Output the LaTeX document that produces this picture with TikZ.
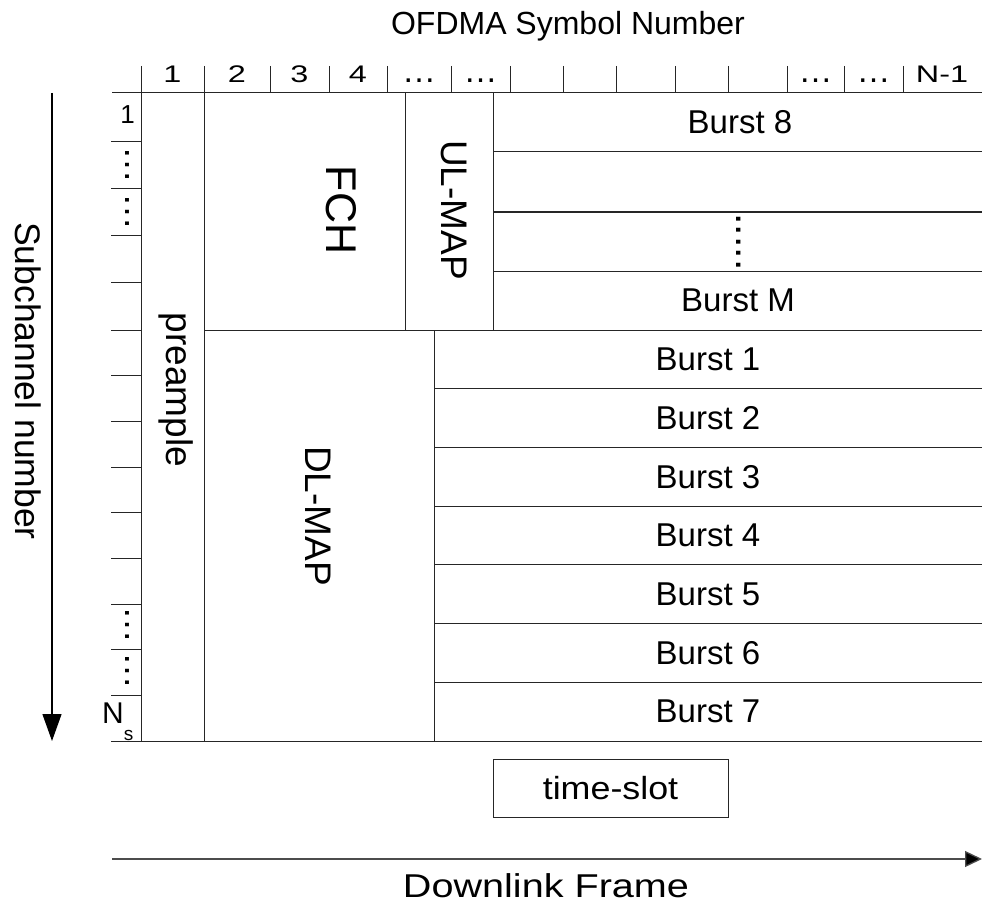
\documentclass[tikz,border=0pt]{standalone}
\usepackage{fontspec}
\setmainfont{Liberation Sans}
\usepackage{graphicx}
\usetikzlibrary{arrows.meta}
\newcommand\setfs[1]{\fontsize{#1}{#1}\selectfont}
\begin{document}
\begin{tikzpicture}[x=1pt,y=-1pt,
  gridline/.style={line width=1pt, draw=black!85},
  lbl/.style={inner sep=0pt, font=\setfs{33}},
  hdr/.style={inner sep=0pt, anchor=base, font=\setfs{24}},
  vlbl/.style={inner sep=0pt, rotate=-90},
  dots/.style={inner sep=0pt, rotate=-90, font=\setfs{37}}
]
\useasboundingbox (0,0) rectangle (982,904);

% titles
\node[lbl, font=\setfs{32}] (title) at (568,26) {OFDMA Symbol Number};
\node[lbl, font=\setfs{33}] (frame) at (546,886) {\scalebox{1.2}[1]{Downlink Frame}};
\node[vlbl, font=\setfs{35.5}] (sub) at (28,381) {Subchannel number};

% header
\draw[gridline] (112,93) -- (982,93);
\foreach \x in {141,204,270,329,387,451,510,563,616,675,728,787,844,903}
  \draw[gridline] (\x,66) -- (\x,93);
\node[hdr] (h1) at (172.5,83) {\scalebox{1.35}[1]{1}};
\node[hdr] (h2) at (237,83) {\scalebox{1.35}[1]{2}};
\node[hdr] (h3) at (299.5,83) {\scalebox{1.35}[1]{3}};
\node[hdr] (h4) at (358,83) {\scalebox{1.35}[1]{4}};
\node[hdr, font=\setfs{34}] (h5) at (419,83) {…};
\node[hdr, font=\setfs{34}] (h6) at (480.5,83) {…};
\node[hdr, font=\setfs{34}] (h7) at (815.5,83) {…};
\node[hdr, font=\setfs{34}] (h8) at (873.5,83) {…};
\node[hdr] (h9) at (942,83) {\scalebox{1.35}[1]{N-1}};

% left subchannel column
\foreach \y in {142,189,235,282,375.7,421.3,467,512.7,558.3,604,649.7,695.3}
  \draw[gridline] (111,\y) -- (141,\y);
\draw[gridline] (111,330) -- (141,330);
\draw[gridline] (141,93) -- (141,741);
\draw[gridline] (204,93) -- (204,741);
\draw[gridline] (204,330) -- (982,330);
\draw[gridline] (111,741) -- (982,741);
\node[lbl, font=\setfs{26}, anchor=east] (r1) at (135,115) {1};
\node[dots] (d1) at (127,165) {…};
\node[dots] (d2) at (127,212) {…};
\node[dots] (d3) at (127,625) {…};
\node[dots] (d4) at (127,671) {…};
\node[inner sep=0pt, anchor=base west, font=\setfs{30}] (ns) at (102,723) {N\raisebox{-17pt}{\setfs{19}s}};

% preamble
\node[vlbl, font=\setfs{37}] (pre) at (176,390) {preample};

% FCH and UL-MAP
\draw[gridline] (405,93) -- (405,330);
\draw[gridline] (493,93) -- (493,330);
\node[vlbl, font=\setfs{43}] (fch) at (341,210) {FCH};
\node[vlbl, font=\setfs{37}] (ulmap) at (454,210) {UL-MAP};

% UL bursts
\foreach \y in {152,212,271}
  \draw[gridline] (493,\y) -- (982,\y);
\node[lbl] (b8) at (740,122.5) {Burst 8};
\node[inner sep=0pt, rotate=-90, font=\setfs{41}] (bd) at (739,242) {.....};
\node[lbl] (bm) at (738,300.5) {Burst M};

% DL-MAP
\draw[gridline] (434,330) -- (434,741);
\node[vlbl, font=\setfs{37}] (dlmap) at (318,516) {DL-MAP};

% DL bursts
\foreach \y in {388.7,447.4,506.1,564.9,623.6,682.3}
  \draw[gridline] (434,\y) -- (982,\y);
\node[lbl] (b1) at (708,359.4) {Burst 1};
\node[lbl] (b2) at (708,418.1) {Burst 2};
\node[lbl] (b3) at (708,476.8) {Burst 3};
\node[lbl] (b4) at (708,535.5) {Burst 4};
\node[lbl] (b5) at (708,594.2) {Burst 5};
\node[lbl] (b6) at (708,652.9) {Burst 6};
\node[lbl] (b7) at (708,711.6) {Burst 7};

% time-slot box
\node[draw=black!85, line width=1pt, minimum width=235pt, minimum height=58pt, inner sep=0pt, font=\setfs{32}] (ts) at (610.5,788) {\scalebox{1.12}[1]{time-slot}};

% arrows
\coordinate (vtop) at (52,93);
\coordinate (vbot) at (52,741);
\draw[line width=1.3pt, -{Triangle[length=27pt,width=19pt]}] (vtop) -- (vbot);
\coordinate (hl) at (112,859);
\coordinate (hr) at (982,859);
\draw[line width=1.3pt, draw=black!70, -{Triangle[length=17pt,width=16pt,fill=black]}] (hl) -- (hr);
\end{tikzpicture}
\end{document}
